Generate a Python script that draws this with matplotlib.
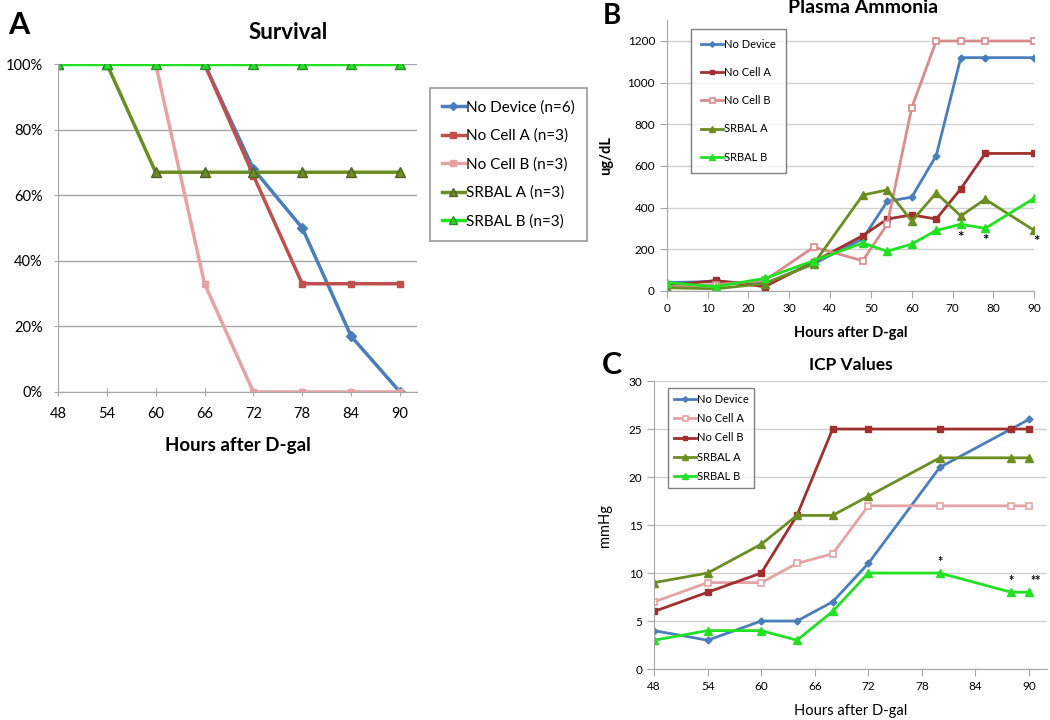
import matplotlib.pyplot as plt
from matplotlib.ticker import PercentFormatter

plt.rcParams['font.family'] = ['Lato', 'DejaVu Sans']

# Panel A: survival
hours_a = [48, 54, 60, 66, 72, 78, 84, 90]
surv_no_device = [100, 100, 100, 100, 68, 50, 17, 0]
surv_no_cell_a = [100, 100, 100, 100, 66, 33, 33, 33]
surv_no_cell_b = [100, 100, 100, 33, 0, 0, 0, 0]
surv_srbal_a = [100, 100, 67, 67, 67, 67, 67, 67]
surv_srbal_b = [100, 100, 100, 100, 100, 100, 100, 100]

# Panel B: plasma ammonia
hours_b = [0, 12, 24, 36, 48, 54, 60, 66, 72, 78, 90]
nh3_no_device = [40, 45, 35, 130, 250, 430, 450, 650, 1120, 1120, 1120]
nh3_no_cell_a = [25, 50, 20, 140, 265, 345, 365, 345, 490, 660, 660]
nh3_no_cell_b = [20, 30, 50, 210, 145, 320, 880, 1200, 1200, 1200, 1200]
nh3_srbal_a = [15, 10, 35, 130, 460, 485, 335, 470, 360, 440, 290]
nh3_srbal_b = [40, 20, 60, 145, 230, 190, 225, 290, 320, 300, 445]
nh3_stars_x = [72, 78, 90.5]
nh3_stars_y = [255, 240, 235]

# Panel C: ICP values
hours_c = [48, 54, 60, 64, 68, 72, 80, 88, 90]
icp_no_device = [4, 3, 5, 5, 7, 11, 21, 25, 26]
icp_no_cell_a = [7, 9, 9, 11, 12, 17, 17, 17, 17]
icp_no_cell_b = [6, 8, 10, 16, 25, 25, 25, 25, 25]
icp_srbal_a = [9, 10, 13, 16, 16, 18, 22, 22, 22]
icp_srbal_b = [3, 4, 4, 3, 6, 10, 10, 8, 8]
icp_stars_x = [80, 88, 90.8]
icp_stars_y = [11.2, 9.2, 9.2]
icp_stars = ['*', '*', '**']

blue = '#4A7EBB'
red_a = '#C0504D'
dark_red = '#A0302E'
pink = '#E6A3A3'
pink_b = '#D98C8C'
olive = '#6B8E23'
green = '#22E022'
axis_gray = '#A6A6A6'


def style_axes(ax, grid_color):
    ax.grid(axis='y', color=grid_color, lw=1)
    ax.set_axisbelow(True)
    for s in ['top', 'right']:
        ax.spines[s].set_visible(False)
    ax.spines['left'].set_color(axis_gray)
    ax.spines['bottom'].set_color(axis_gray)


fig = plt.figure(figsize=(10.5, 7.2), dpi=100)

# ---------- A ----------
ax1 = fig.add_axes([0.0552, 0.4556, 0.342, 0.4555])
ax1.plot(hours_a, surv_no_device, color=blue, lw=2.5, marker='D', ms=5, label='No Device (n=6)')
ax1.plot(hours_a, surv_no_cell_a, color=red_a, lw=2.5, marker='s', ms=5, label='No Cell A (n=3)')
ax1.plot(hours_a, surv_no_cell_b, color=pink, lw=2.5, marker='s', ms=5, label='No Cell B (n=3)')
ax1.plot(hours_a, surv_srbal_a, color=olive, lw=2.5, marker='^', ms=7, mec='#4F6228', label='SRBAL A (n=3)')
ax1.plot(hours_a, surv_srbal_b, color=green, lw=2.5, marker='^', ms=7, mec='#2E8B2E', label='SRBAL B (n=3)')
ax1.set_xlim(48, 92.1)
ax1.set_ylim(0, 100)
ax1.set_xticks(hours_a)
ax1.set_yticks([0, 20, 40, 60, 80, 100])
ax1.yaxis.set_major_formatter(PercentFormatter(decimals=0))
style_axes(ax1, '#A6A6A6')
ax1.tick_params(labelsize=10.5, color=axis_gray, length=6, direction='inout')
ax1.tick_params(axis='y', pad=8)
ax1.tick_params(axis='x', pad=8)
ax1.set_xlabel('Hours after D-gal', fontsize=13.5, fontweight='bold', labelpad=11)
ax1.set_title('Survival', fontsize=16, fontweight='bold', pad=18, x=0.64)
leg1 = ax1.legend(loc='upper left', bbox_to_anchor=(1.035, 0.927), fontsize=11, frameon=True,
                  fancybox=False, edgecolor='#808080', handlelength=1.5, handletextpad=0.1,
                  labelspacing=0.93, borderpad=0.8, borderaxespad=0, markerscale=0.85)
leg1.get_frame().set_linewidth(1.2)
fig.text(0.008, 0.965, 'A', fontsize=22, fontweight='bold', va='center')

# ---------- B ----------
ax2 = fig.add_axes([0.635, 0.596, 0.35, 0.376])
ax2.plot(hours_b, nh3_no_device, color=blue, lw=2, marker='D', ms=3.5, label='No Device')
ax2.plot(hours_b, nh3_no_cell_a, color=dark_red, lw=2, marker='s', ms=4, label='No Cell A')
ax2.plot(hours_b, nh3_no_cell_b, color=pink_b, lw=2, marker='s', ms=4.5, mfc='white', mew=1.2, label='No Cell B')
ax2.plot(hours_b, nh3_srbal_a, color=olive, lw=2, marker='^', ms=5.5, label='SRBAL A')
ax2.plot(hours_b, nh3_srbal_b, color=green, lw=2, marker='^', ms=5.5, label='SRBAL B')
for x, y in zip(nh3_stars_x, nh3_stars_y):
    ax2.text(x, y, '*', fontsize=11, fontweight='bold', ha='center', va='center', clip_on=False)
ax2.set_xlim(0, 90)
ax2.set_ylim(0, 1300)
ax2.set_xticks(range(0, 91, 10))
ax2.set_yticks(range(0, 1201, 200))
style_axes(ax2, '#D0D0D0')
ax2.tick_params(labelsize=8.5, color=axis_gray, length=5)
ax2.set_xlabel('Hours after D-gal', fontsize=10.5, fontweight='bold', labelpad=9)
ax2.set_ylabel('ug/dL', fontsize=10.5, fontweight='bold', labelpad=10)
fig.text(0.822, 0.989, 'Plasma Ammonia', fontsize=14, fontweight='bold', ha='center', va='center')
leg2 = ax2.legend(loc='upper left', bbox_to_anchor=(0.065, 0.968), fontsize=8, frameon=True,
                  fancybox=False, edgecolor='#606060', handlelength=2.0, handletextpad=0.1,
                  labelspacing=1.55, borderpad=0.9, borderaxespad=0, markerscale=0.8)
leg2.get_frame().set_linewidth(1)
fig.text(0.574, 0.978, 'B', fontsize=20, fontweight='bold', va='center')

# ---------- C ----------
ax3 = fig.add_axes([0.623, 0.0708, 0.374, 0.4])
ax3.plot(hours_c, icp_no_device, color=blue, lw=2, marker='D', ms=3.5, label='No Device')
ax3.plot(hours_c, icp_no_cell_a, color=pink, lw=2, marker='s', ms=4.5, mfc='white', mew=1.2, label='No Cell A')
ax3.plot(hours_c, icp_no_cell_b, color=dark_red, lw=2, marker='s', ms=4, label='No Cell B')
ax3.plot(hours_c, icp_srbal_a, color=olive, lw=2, marker='^', ms=5.5, label='SRBAL A')
ax3.plot(hours_c, icp_srbal_b, color=green, lw=2, marker='^', ms=5.5, label='SRBAL B')
for x, y, s in zip(icp_stars_x, icp_stars_y, icp_stars):
    ax3.text(x, y, s, fontsize=9, fontweight='bold', ha='center', va='center', clip_on=False)
ax3.set_xlim(48, 92)
ax3.set_ylim(0, 30)
ax3.set_xticks(range(48, 91, 6))
ax3.set_yticks(range(0, 31, 5))
style_axes(ax3, '#D0D0D0')
ax3.tick_params(labelsize=8.5, color=axis_gray, length=5)
ax3.set_xlabel('Hours after D-gal', fontsize=10.5, labelpad=9)
ax3.set_ylabel('mmHg', fontsize=10.5, labelpad=12)
ax3.set_title('ICP Values', fontsize=12.5, fontweight='bold', pad=8)
leg3 = ax3.legend(loc='upper left', bbox_to_anchor=(0.036, 0.975), fontsize=8, frameon=True,
                  fancybox=False, edgecolor='#606060', handlelength=2.0, handletextpad=0.1,
                  labelspacing=0.75, borderpad=0.5, borderaxespad=0, markerscale=0.8)
leg3.get_frame().set_linewidth(1)
fig.text(0.573, 0.493, 'C', fontsize=22, fontweight='bold', va='center')

fig.savefig('out.png', dpi=100)
